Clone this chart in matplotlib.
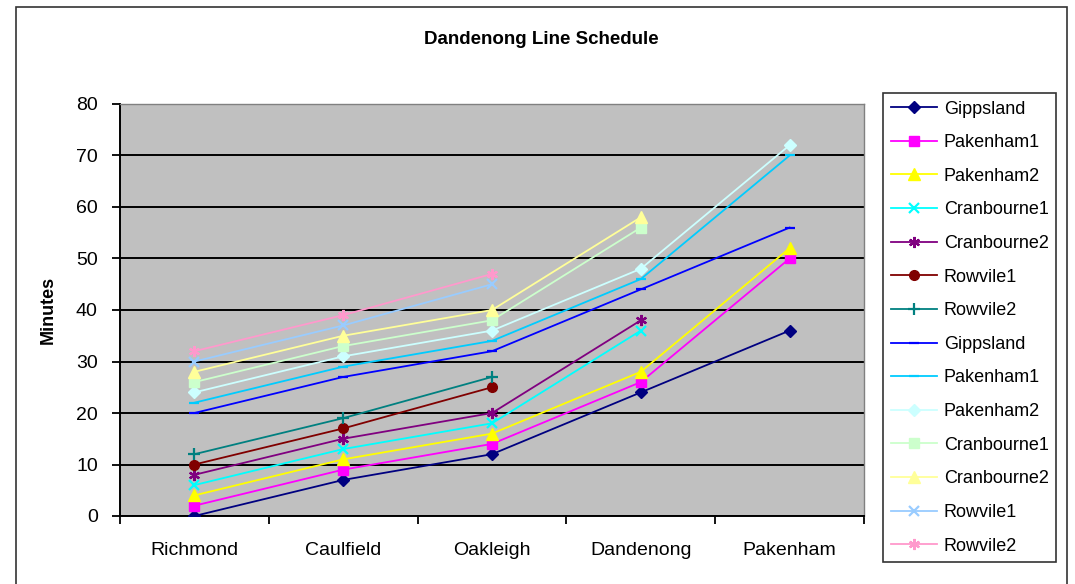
import matplotlib
matplotlib.use("Agg")
import matplotlib.pyplot as plt
from matplotlib.patches import Rectangle

plt.rcParams['font.family'] = ['Liberation Sans', 'DejaVu Sans']

stations = ["Richmond", "Caulfield", "Oakleigh", "Dandenong", "Pakenham"]

# minutes from Flinders St, None = train does not run there
gippsland_a = [0, 7, 12, 24, 36]
pakenham1_a = [2, 9, 14, 26, 50]
pakenham2_a = [4, 11, 16, 28, 52]
cranbourne1_a = [6, 13, 18, 36, None]
cranbourne2_a = [8, 15, 20, 38, None]
rowville1_a = [10, 17, 25, None, None]
rowville2_a = [12, 19, 27, None, None]

gippsland_b = [20, 27, 32, 44, 56]
pakenham1_b = [22, 29, 34, 46, 70]
pakenham2_b = [24, 31, 36, 48, 72]
cranbourne1_b = [26, 33, 38, 56, None]
cranbourne2_b = [28, 35, 40, 58, None]
rowville1_b = [30, 37, 45, None, None]
rowville2_b = [32, 39, 47, None, None]

star = (6, 2, 0)
series = [
    ("Gippsland", gippsland_a, "#000080", "D", 6),
    ("Pakenham1", pakenham1_a, "#FF00FF", "s", 7),
    ("Pakenham2", pakenham2_a, "#FFFF00", "^", 8),
    ("Cranbourne1", cranbourne1_a, "#00FFFF", "x", 7),
    ("Cranbourne2", cranbourne2_a, "#800080", star, 8),
    ("Rowvile1", rowville1_a, "#800000", "o", 7),
    ("Rowvile2", rowville2_a, "#008080", "+", 8),
    ("Gippsland", gippsland_b, "#0000FF", "_", 7),
    ("Pakenham1", pakenham1_b, "#00CCFF", "_", 7),
    ("Pakenham2", pakenham2_b, "#CCFFFF", "D", 6),
    ("Cranbourne1", cranbourne1_b, "#CCFFCC", "s", 7),
    ("Cranbourne2", cranbourne2_b, "#FFFF99", "^", 8),
    ("Rowvile1", rowville1_b, "#99CCFF", "x", 7),
    ("Rowvile2", rowville2_b, "#FF99CC", star, 8),
]

fig = plt.figure(figsize=(10.75, 5.84), dpi=100)
fig.patch.set_facecolor("white")
fig.add_artist(Rectangle((16 / 1075, -0.05), 1051 / 1075, 1.05 - 7 / 584,
                         transform=fig.transFigure, fill=False,
                         edgecolor="#333333", linewidth=1.2))

ax = fig.add_axes([120 / 1075, 68 / 584, 744 / 1075, 412 / 584])
ax.set_facecolor("#C0C0C0")

x = list(range(len(stations)))
for name, vals, color, marker, ms in series:
    xs = [i for i, v in zip(x, vals) if v is not None]
    ys = [v for v in vals if v is not None]
    mew = 1.6 if marker in ("x", "+", "_", star) else 1.0
    ax.plot(xs, ys, color=color, linewidth=1.3, marker=marker,
            markersize=ms, markeredgewidth=mew, label=name, zorder=3)

ax.set_ylim(0, 80)
ax.set_xlim(-0.5, 4.5)
ax.set_yticks(range(0, 81, 10))
ax.yaxis.grid(True, color="black", linewidth=1.4)
ax.set_axisbelow(True)

ax.set_xticks(x)
ax.set_xticklabels(stations)
ax.set_xticks([i - 0.5 for i in range(len(stations) + 1)], minor=True)
ax.tick_params(axis="x", which="major", length=0, pad=19, labelsize=14)
ax.tick_params(axis="x", which="minor", length=6, width=1.3, direction="out")
ax.tick_params(axis="y", length=6, width=1.3, direction="out", pad=10,
               labelsize=14)

for side in ("top", "right"):
    ax.spines[side].set_color("#808080")
    ax.spines[side].set_linewidth(1.0)
for side in ("left", "bottom"):
    ax.spines[side].set_color("black")
    ax.spines[side].set_linewidth(1.4)

ax.set_ylabel("Minutes", fontsize=13, fontweight="bold", labelpad=14)
fig.text(541 / 1075, 1 - 40 / 584, "Dandenong Line Schedule",
         ha="center", va="center", fontsize=13.5, fontweight="bold")

leg = fig.legend(loc="upper left", bbox_to_anchor=(883 / 1075, 1 - 93 / 584),
                 fontsize=13, frameon=True, fancybox=False, edgecolor="black",
                 handlelength=2.55, handletextpad=0.4, labelspacing=0.92,
                 borderpad=0.42, borderaxespad=0)
leg.get_frame().set_linewidth(1.2)

fig.savefig("out.png", dpi=100)
